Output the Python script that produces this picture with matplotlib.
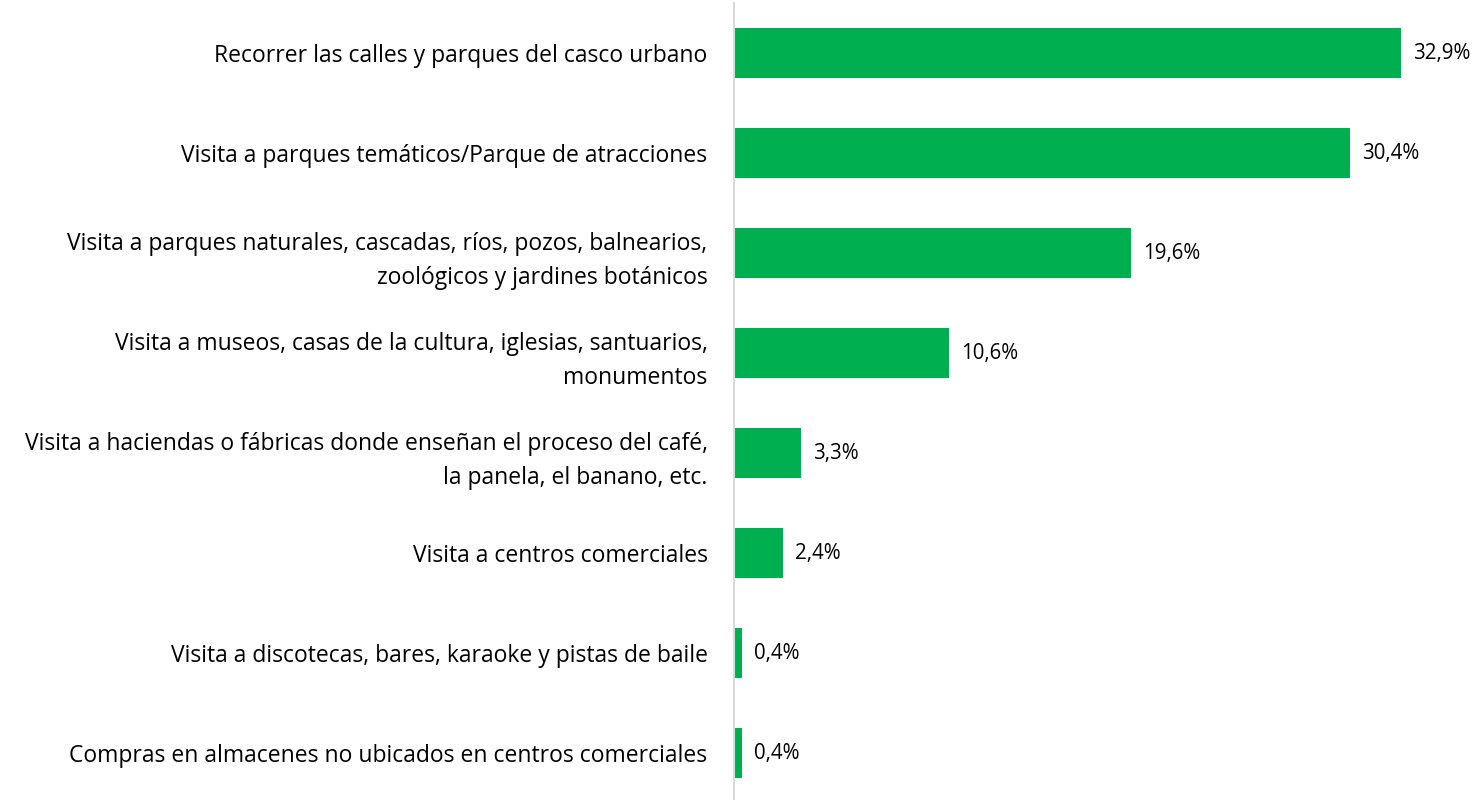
import matplotlib
matplotlib.use("Agg")
import matplotlib.pyplot as plt

categories = [
    "Recorrer las calles y parques del casco urbano",
    "Visita a parques temáticos/Parque de atracciones",
    "Visita a parques naturales, cascadas, ríos, pozos, balnearios,\nzoológicos y jardines botánicos",
    "Visita a museos, casas de la cultura, iglesias, santuarios,\nmonumentos",
    "Visita a haciendas o fábricas donde enseñan el proceso del café,\nla panela, el banano, etc.",
    "Visita a centros comerciales",
    "Visita a discotecas, bares, karaoke y pistas de baile",
    "Compras en almacenes no ubicados en centros comerciales",
]
values = [32.9, 30.4, 19.6, 10.6, 3.3, 2.4, 0.4, 0.4]
value_labels = ["32,9%", "30,4%", "19,6%", "10,6%", "3,3%", "2,4%", "0,4%", "0,4%"]

plt.rcParams['font.family'] = ['Open Sans', 'DejaVu Sans']

fig = plt.figure(figsize=(14.73, 8.0), dpi=100)
ax = fig.add_axes([734 / 1473, -3 / 800, 1 - 734 / 1473, 800 / 800])

y = list(range(len(categories)))
ax.barh(y, values, height=0.5, color="#00B050")
for yi, v, lab in zip(y, values, value_labels):
    ax.text(v + 0.6, yi, lab, va="center", ha="left", fontsize=14.8, color="#000000")

ax.set_ylim(len(categories) - 0.5, -0.5)
ax.set_xlim(0, (1473 - 734) / 20.27)
ax.set_yticks(y)
ax.set_yticklabels(categories, fontsize=16.5, ha="right", linespacing=1.55)
ax.tick_params(axis="y", length=0, pad=19)
ax.set_xticks([])
for s in ["top", "right", "bottom"]:
    ax.spines[s].set_visible(False)
ax.spines["left"].set_color("#D9D9DE")
ax.spines["left"].set_linewidth(1.5)

fig.savefig("out.png", dpi=100)
